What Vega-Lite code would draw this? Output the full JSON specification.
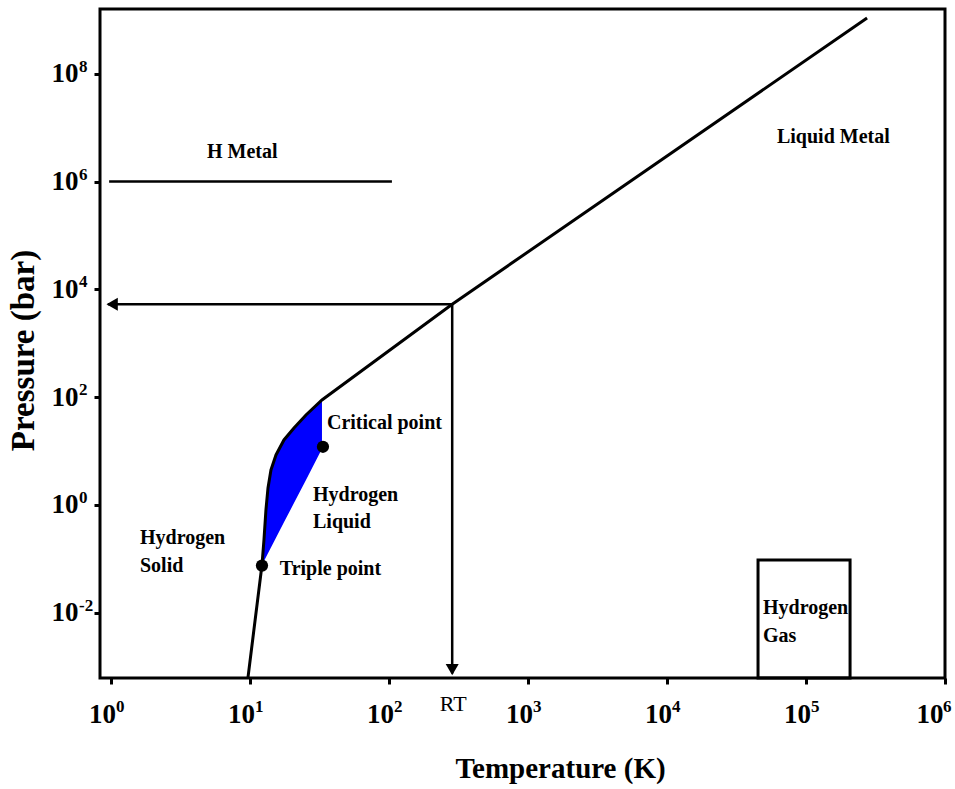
{
  "$schema": "https://vega.github.io/schema/vega-lite/v6.json",
  "width": 845,
  "height": 669,
  "autosize": {"type": "none"},
  "padding": {"left": 100, "top": 9, "right": 10, "bottom": 111},
  "background": "white",
  "config": {
    "view": {"stroke": "#000", "strokeWidth": 3},
    "font": "Liberation Serif",
    "axis": {
      "grid": false,
      "domain": false,
      "tickColor": "#000",
      "tickWidth": 3,
      "tickSize": 6,
      "labelFont": "Liberation Serif",
      "labelFontWeight": "bold",
      "labelFontSize": 27,
      "labelColor": "#000",
      "titleFont": "Liberation Serif",
      "titleFontWeight": "bold",
      "titleColor": "#000"
    }
  },
  "datasets": {
    "curve": [
      {"o": 1, "T": 9.67, "P": 0.00062},
      {"o": 2, "T": 12.2, "P": 0.077},
      {"o": 3, "T": 12.61, "P": 0.2242},
      {"o": 4, "T": 13.03, "P": 0.808},
      {"o": 5, "T": 13.48, "P": 2.067},
      {"o": 6, "T": 14.16, "P": 4.46},
      {"o": 7, "T": 15.39, "P": 8.47},
      {"o": 8, "T": 17.56, "P": 16.07},
      {"o": 9, "T": 20.73, "P": 26.8},
      {"o": 10, "T": 25.29, "P": 46.7},
      {"o": 11, "T": 32.96, "P": 88.7},
      {"o": 12, "T": 285, "P": 5300},
      {"o": 13, "T": 275000, "P": 1080000000}
    ],
    "liquid": [
      {"T": 12.2, "Pu": 0.077, "Pl": 0.077},
      {"T": 12.61, "Pu": 0.2242, "Pl": 0.091},
      {"T": 13.03, "Pu": 0.808, "Pl": 0.1071},
      {"T": 13.48, "Pu": 2.067, "Pl": 0.1265},
      {"T": 14.16, "Pu": 4.46, "Pl": 0.1621},
      {"T": 15.39, "Pu": 8.47, "Pl": 0.2453},
      {"T": 17.56, "Pu": 16.07, "Pl": 0.4755},
      {"T": 20.73, "Pu": 26.8, "Pl": 1.085},
      {"T": 25.29, "Pu": 46.7, "Pl": 2.92},
      {"T": 32.96, "Pu": 88.7, "Pl": 11.0}
    ],
    "hmetal": [
      {"T": 0.97, "P": 1000000},
      {"T": 105, "P": 1000000}
    ],
    "arrow": [
      {"o": 1, "T": 0.95, "P": 5300},
      {"o": 2, "T": 285, "P": 5300},
      {"o": 3, "T": 285, "P": 0.00075}
    ],
    "heads": [
      {"T": 1.02, "P": 5300, "shape": "triangle-left"},
      {"T": 285, "P": 0.00088, "shape": "triangle-down"}
    ],
    "gasbox": [
      {"T1": 45180, "T2": 207500, "P1": 0.000617, "P2": 0.0954}
    ],
    "dots": [
      {"T": 12.2, "P": 0.075, "name": "Triple point"},
      {"T": 33.5, "P": 12.0, "name": "Critical point"}
    ],
    "labels": [
      {"T": 4.91, "P": 3500000, "text": "H Metal"},
      {"T": 61800, "P": 6700000, "text": "Liquid Metal"},
      {"T": 35.8, "P": 33.2, "text": "Critical point"},
      {"T": 28.4, "P": 1.53, "text": "Hydrogen"},
      {"T": 28.4, "P": 0.484, "text": "Liquid"},
      {"T": 1.617, "P": 0.244, "text": "Hydrogen"},
      {"T": 1.617, "P": 0.0738, "text": "Solid"},
      {"T": 16.4, "P": 0.065, "text": "Triple point"},
      {"T": 49100, "P": 0.0123, "text": "Hydrogen"},
      {"T": 49100, "P": 0.00371, "text": "Gas"}
    ],
    "rt": [
      {"T": 290, "P": 0.000203, "text": "RT"}
    ],
    "xexp": [
      {"T": 1, "P": 0.000617, "e": "0"},
      {"T": 10, "P": 0.000617, "e": "1"},
      {"T": 100, "P": 0.000617, "e": "2"},
      {"T": 1000, "P": 0.000617, "e": "3"},
      {"T": 10000, "P": 0.000617, "e": "4"},
      {"T": 100000, "P": 0.000617, "e": "5"}
    ],
    "xexplast": [
      {"T": 1000000, "P": 0.000617, "e": "6"}
    ],
    "yexp": [
      {"T": 0.834, "P": 0.01, "e": "-2"},
      {"T": 0.834, "P": 1, "e": "0"},
      {"T": 0.834, "P": 100, "e": "2"},
      {"T": 0.834, "P": 10000, "e": "4"},
      {"T": 0.834, "P": 1000000, "e": "6"},
      {"T": 0.834, "P": 100000000, "e": "8"}
    ]
  },
  "layer": [
    {
      "data": {"name": "liquid"},
      "mark": {"type": "area", "color": "#0000ff", "opacity": 1},
      "encoding": {
        "x": {
          "field": "T", "type": "quantitative",
          "scale": {"type": "log", "domain": [0.834, 1000000], "nice": false, "zero": false},
          "axis": {
            "values": [1, 10, 100, 1000, 10000, 100000, 1000000],
            "labelExpr": "'10'",
            "labelPadding": 17,
            "labelOffset": -9,
            "labelFlush": true,
            "labelFlushOffset": 7,
            "title": "Temperature (K)",
            "titleFontSize": 29,
            "titleX": 460,
            "titleY": 90,
            "titleBaseline": "middle"
          }
        },
        "y": {
          "field": "Pu", "type": "quantitative",
          "scale": {"type": "log", "domain": [0.000617, 1585000000], "nice": false, "zero": false},
          "axis": {
            "values": [0.01, 1, 100, 10000, 1000000, 100000000],
            "labelExpr": "'10'",
            "labelPadding": 16,
            "labelFlush": false,
            "title": "Pressure (bar)",
            "titleFontSize": 33,
            "titleX": -77,
            "titleY": 341,
            "titleBaseline": "middle",
            "titleAngle": -90
          }
        },
        "y2": {"field": "Pl"}
      }
    },
    {
      "data": {"name": "curve"},
      "mark": {"type": "line", "color": "#000", "strokeWidth": 3, "clip": true},
      "encoding": {
        "x": {"field": "T", "type": "quantitative"},
        "y": {"field": "P", "type": "quantitative"},
        "order": {"field": "o"}
      }
    },
    {
      "data": {"name": "hmetal"},
      "mark": {"type": "line", "color": "#000", "strokeWidth": 2.5},
      "encoding": {
        "x": {"field": "T", "type": "quantitative"},
        "y": {"field": "P", "type": "quantitative"}
      }
    },
    {
      "data": {"name": "arrow"},
      "mark": {"type": "line", "color": "#000", "strokeWidth": 2.5},
      "encoding": {
        "x": {"field": "T", "type": "quantitative"},
        "y": {"field": "P", "type": "quantitative"},
        "order": {"field": "o"}
      }
    },
    {
      "data": {"name": "heads"},
      "mark": {"type": "point", "filled": true, "color": "#000", "size": 170, "opacity": 1},
      "encoding": {
        "x": {"field": "T", "type": "quantitative"},
        "y": {"field": "P", "type": "quantitative"},
        "shape": {"field": "shape", "type": "nominal", "scale": null}
      }
    },
    {
      "data": {"name": "gasbox"},
      "mark": {"type": "rect", "fill": null, "fillOpacity": 0, "stroke": "#000", "strokeWidth": 3},
      "encoding": {
        "x": {"field": "T1", "type": "quantitative"},
        "x2": {"field": "T2"},
        "y": {"field": "P1", "type": "quantitative"},
        "y2": {"field": "P2"}
      }
    },
    {
      "data": {"name": "dots"},
      "mark": {"type": "circle", "color": "#000", "size": 150, "opacity": 1},
      "encoding": {
        "x": {"field": "T", "type": "quantitative"},
        "y": {"field": "P", "type": "quantitative"}
      }
    },
    {
      "data": {"name": "labels"},
      "mark": {"type": "text", "align": "left", "baseline": "middle", "font": "Liberation Serif", "fontWeight": "bold", "fontSize": 20, "color": "#000"},
      "encoding": {
        "x": {"field": "T", "type": "quantitative"},
        "y": {"field": "P", "type": "quantitative"},
        "text": {"field": "text"}
      }
    },
    {
      "data": {"name": "rt"},
      "mark": {"type": "text", "align": "center", "baseline": "middle", "font": "Liberation Serif", "fontWeight": "normal", "fontSize": 22, "color": "#000"},
      "encoding": {
        "x": {"field": "T", "type": "quantitative"},
        "y": {"field": "P", "type": "quantitative"},
        "text": {"field": "text"}
      }
    },
    {
      "data": {"name": "xexp"},
      "mark": {"type": "text", "align": "left", "baseline": "alphabetic", "dx": 5, "dy": 34, "font": "Liberation Serif", "fontWeight": "bold", "fontSize": 17, "color": "#000"},
      "encoding": {
        "x": {"field": "T", "type": "quantitative"},
        "y": {"field": "P", "type": "quantitative"},
        "text": {"field": "e"}
      }
    },
    {
      "data": {"name": "xexplast"},
      "mark": {"type": "text", "align": "left", "baseline": "alphabetic", "dx": -2, "dy": 34, "font": "Liberation Serif", "fontWeight": "bold", "fontSize": 17, "color": "#000"},
      "encoding": {
        "x": {"field": "T", "type": "quantitative"},
        "y": {"field": "P", "type": "quantitative"},
        "text": {"field": "e"}
      }
    },
    {
      "data": {"name": "yexp"},
      "mark": {"type": "text", "align": "left", "baseline": "alphabetic", "dx": -21, "dy": -2, "font": "Liberation Serif", "fontWeight": "bold", "fontSize": 17, "color": "#000"},
      "encoding": {
        "x": {"field": "T", "type": "quantitative"},
        "y": {"field": "P", "type": "quantitative"},
        "text": {"field": "e"}
      }
    }
  ]
}
